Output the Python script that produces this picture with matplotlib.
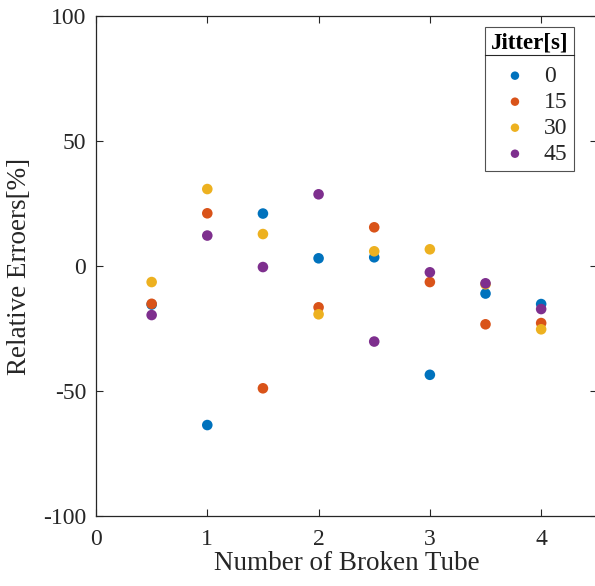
import numpy as np
import matplotlib.pyplot as plt
from matplotlib.lines import Line2D

plt.rcParams['font.family'] = ['Liberation Serif', 'DejaVu Serif']
plt.rcParams['axes.unicode_minus'] = False

# Broken tube count on the x axis
tubes = [0.5, 1.0, 1.5, 2.0, 2.5, 3.0, 3.5, 4.0]

# Relative errors (%) for each jitter value
err_0 = [-15.3, -63.5, 21.1, 3.2, 3.6, -43.4, -10.9, -15.1]
err_15 = [-15.0, 21.2, -48.8, -16.4, 15.6, -6.3, -23.2, -22.7]
err_30 = [-6.3, 30.9, 12.9, -19.2, 6.0, 6.8, -7.2, -25.2]
err_45 = [-19.5, 12.3, -0.3, 28.8, -30.1, -2.4, -6.8, -17.1]

jitter = ['0', '15', '30', '45']
series = [err_0, err_15, err_30, err_45]
colors = ['#0072BD', '#D95319', '#EDB120', '#7E2F8E']

fig = plt.figure(figsize=(5.95, 5.86), dpi=100)
ax = fig.add_axes([96 / 595, 69.7 / 586, 500.8 / 595, 500 / 586])

for y, c, lab in zip(series, colors, jitter):
    ax.scatter(tubes, y, s=58, color=c, edgecolors='none', label=lab, zorder=3)

ax.set_xlim(0, 4.5)
ax.set_ylim(-100, 100)
ax.set_xticks([0, 1, 2, 3, 4])
ax.set_yticks([-100, -50, 0, 50, 100])
ax.tick_params(direction='in', top=True, right=True, labelsize=17,
               length=5, width=0.8, colors='#262626')
ax.tick_params(axis='x', pad=9)
ax.tick_params(axis='y', pad=7)
for sp in ax.spines.values():
    sp.set_linewidth(0.9)
    sp.set_color('#262626')

ax.set_xlabel('Number of Broken Tube', fontsize=19.5, color='#262626', labelpad=1)
ax.set_ylabel('Relative Erroers[%]', fontsize=19.5, color='#262626', labelpad=8)

leg = ax.legend(title='Jitter[s]', loc='upper left',
                bbox_to_anchor=((485 - 96) / 500.8, (516.3 - 27) / 500),
                fontsize=17, title_fontproperties={'weight': 'bold', 'size': 16.5},
                frameon=True, fancybox=False, edgecolor='#262626',
                handletextpad=0.25, labelspacing=0.19, borderpad=0.25,
                handlelength=1.95, markerscale=0.8, borderaxespad=0)
leg.get_frame().set_linewidth(0.8)
for t in leg.get_texts():
    t.set_color('#262626')
# a bit more room between the title and the entries
leg._legend_box.sep = 0.19 * 17 + 5.0

# line under the legend title
fig.canvas.draw()
tb = leg.get_title().get_window_extent()
fb = leg.get_frame().get_window_extent()
inv = fig.transFigure.inverted()
ysep = tb.y0 - 1
x0, y0 = inv.transform((fb.x0, ysep))
x1, _ = inv.transform((fb.x1, ysep))
fig.add_artist(Line2D([x0, x1], [y0, y0], color='#262626', lw=0.8))

fig.savefig('out.png', dpi=100)
